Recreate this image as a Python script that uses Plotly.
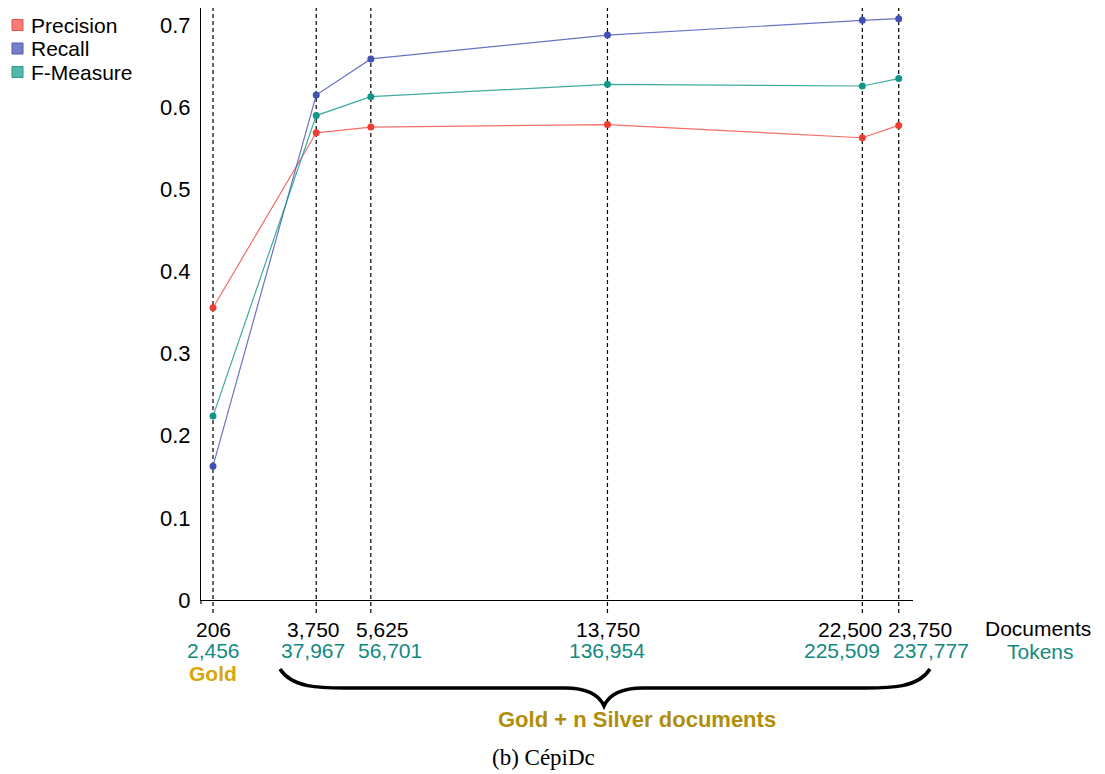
import plotly.graph_objects as go

# ---- data ----
documents = [206, 3750, 5625, 13750, 22500, 23750]
tokens = [2456, 37967, 56701, 136954, 225509, 237777]
precision = [0.356, 0.569, 0.576, 0.579, 0.563, 0.578]
recall = [0.163, 0.615, 0.659, 0.688, 0.706, 0.708]
fmeasure = [0.224, 0.590, 0.613, 0.628, 0.626, 0.635]
series_names = ["Precision", "Recall", "F-Measure"]

# label nudges (pixels) so neighbouring labels do not collide, as in the reference
doc_label_shift = [0, -3, 12, 1, -12, 21]
tok_label_shift = [0, -3, 19, 0, -20, 32]

FONT = "Liberation Sans"
marker_cols = ["#ee3d34", "#4350b4", "#10968a"]
line_cols = ["rgba(238,61,52,0.75)", "rgba(67,80,180,0.8)", "rgba(16,150,138,0.8)"]
legend_fill = ["rgba(246,110,100,0.9)", "rgba(104,112,196,0.9)", "rgba(66,174,162,0.9)"]
legend_edge = ["#e2554b", "#4f5ab0", "#239a8e"]
TEAL = "#138a80"
GOLD = "#d6a70a"
DGOLD = "#b08e0c"

# plot-area pixel geometry (for converting decoration positions to paper coords)
L, R, T, B = 201, 913, 8, 600
W, H = R - L, B - T


def px(x):
    return (x - L) / W


def py(y):
    return (B - y) / H


fig = go.Figure()
for name, vals, mc, lc in zip(series_names, [precision, recall, fmeasure], marker_cols, line_cols):
    fig.add_trace(go.Scatter(
        x=documents, y=vals, name=name, mode="lines+markers",
        line=dict(color=lc, width=1.2),
        marker=dict(color=mc, size=7),
        showlegend=False, cliponaxis=False,
    ))

shapes = []
# dashed verticals at each document count
for d in documents:
    shapes.append(dict(type="line", xref="x", yref="paper", x0=d, x1=d,
                       y0=py(613), y1=1, layer="below",
                       line=dict(color="black", width=1.2, dash="4px,3px")))

# y axis extends a little below zero
shapes.append(dict(type="line", xref="paper", yref="paper", x0=0, x1=0,
                   y0=py(604), y1=0, line=dict(color="black", width=1.2)))

# legend squares
legend_y = [25, 48.5, 72]
for yy, fc, ec in zip(legend_y, legend_fill, legend_edge):
    shapes.append(dict(type="rect", xref="paper", yref="paper",
                       x0=px(12), x1=px(23), y0=py(yy + 5.5), y1=py(yy - 5.5),
                       fillcolor=fc, line=dict(color=ec, width=1)))

# curly brace
def P(x, y):
    return f"{px(x):.5f},{py(y):.5f}"

brace = (f"M {P(280,669)} C {P(292,688)} {P(320,688)} {P(345,688)} "
         f"L {P(565,688)} C {P(590,688)} {P(600,697)} {P(604,706)} "
         f"C {P(608,697)} {P(618,688)} {P(643,688)} "
         f"L {P(865,688)} C {P(890,688)} {P(918,688)} {P(930,669)}")
shapes.append(dict(type="path", xref="paper", yref="paper", path=brace,
                   line=dict(color="black", width=3.5)))

annotations = []
# legend text
for yy, name in zip(legend_y, series_names):
    annotations.append(dict(xref="paper", yref="paper", x=px(29), y=py(yy),
                            xanchor="left", yanchor="middle", showarrow=False,
                            text=name, font=dict(family=FONT, size=21, color="black")))

# x labels
for d, t, ds, ts in zip(documents, tokens, doc_label_shift, tok_label_shift):
    annotations.append(dict(xref="x", yref="paper", x=d, y=py(629), xanchor="center",
                            yanchor="middle", showarrow=False, text=f"{d:,}", xshift=ds,
                            font=dict(family=FONT, size=21, color="black")))
    annotations.append(dict(xref="x", yref="paper", x=d, y=py(650), xanchor="center",
                            yanchor="middle", showarrow=False, text=f"{t:,}", xshift=ts,
                            font=dict(family=FONT, size=21, color=TEAL)))
annotations.append(dict(xref="x", yref="paper", x=documents[0], y=py(673), xanchor="center",
                        yanchor="middle", showarrow=False, text="<b>Gold</b>",
                        font=dict(family=FONT, size=21, color=GOLD)))
annotations.append(dict(xref="paper", yref="paper", x=px(1038), y=py(628), xanchor="center",
                        yanchor="middle", showarrow=False, text="Documents",
                        font=dict(family=FONT, size=21, color="black")))
annotations.append(dict(xref="paper", yref="paper", x=px(1040), y=py(651), xanchor="center",
                        yanchor="middle", showarrow=False, text="Tokens",
                        font=dict(family=FONT, size=21, color=TEAL)))
annotations.append(dict(xref="paper", yref="paper", x=px(637), y=py(719), xanchor="center",
                        yanchor="middle", showarrow=False, text="<b>Gold + n Silver documents</b>",
                        font=dict(family=FONT, size=22, color=DGOLD)))
annotations.append(dict(xref="paper", yref="paper", x=px(543), y=py(757), xanchor="center",
                        yanchor="middle", showarrow=False, text="(b) CépiDc",
                        font=dict(family="Liberation Serif", size=23, color="black")))

fig.update_layout(
    width=1105, height=774,
    margin=dict(l=L, r=1105 - R, t=T, b=774 - B, pad=0),
    paper_bgcolor="white", plot_bgcolor="white",
    shapes=shapes, annotations=annotations, showlegend=False,
    xaxis=dict(range=[-206, 24240], showgrid=False, zeroline=False, showticklabels=False,
               ticks="", showline=True, linecolor="black", linewidth=1.2),
    yaxis=dict(range=[0, 0.721], tickvals=[0, 0.1, 0.2, 0.3, 0.4, 0.5, 0.6, 0.7],
               ticktext=["0", "0.1", "0.2", "0.3", "0.4", "0.5", "0.6", "0.7"],
               showgrid=False, zeroline=False, ticks="", showline=True,
               linecolor="black", linewidth=1.2, ticklabelstandoff=5,
               tickfont=dict(family=FONT, size=22, color="black")),
)

fig.write_html("out.html")
